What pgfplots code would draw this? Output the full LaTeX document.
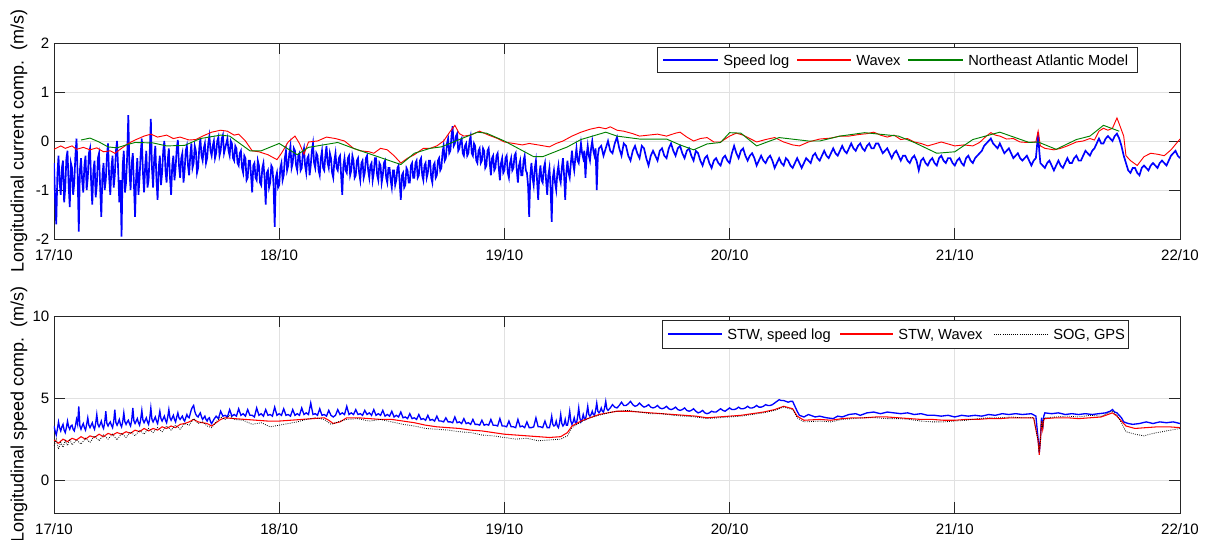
\documentclass[border=0pt]{standalone}
\usepackage{fontspec}
\setmainfont{Liberation Sans}
\usepackage{pgfplots}
\pgfplotsset{compat=1.18}
\definecolor{axgray}{RGB}{38,38,38}
\definecolor{gridgray}{RGB}{225,225,225}
\definecolor{mgreen}{RGB}{0,128,0}
\definecolor{lblue}{RGB}{0,0,255}
\definecolor{lred}{RGB}{255,0,0}
\pgfplotsset{
  mystyle/.style={
    scale only axis, width=844.5pt,
    xmin=0, xmax=5, xtick={0,1,2,3,4,5},
    xticklabels={17/10,18/10,19/10,20/10,21/10,22/10},
    tick align=inside, tick pos=both, major tick length=8pt,
    grid=major, grid style={gridgray, line width=0.6pt},
    axis line style={axgray, line width=0.6pt},
    every tick/.style={axgray, line width=0.6pt},
    every tick label/.append style={font=\fontsize{11.3}{13}\selectfont},
    xticklabel style={yshift=-4.5pt},
    /pgf/number format/assume math mode=true,
    ylabel style={font=\fontsize{13.5}{15}\selectfont, at={(axis description cs:-0.031,0.5)}, anchor=center},
  }
}
\tikzset{legtext/.style={anchor=base west, inner sep=0pt, font=\fontsize{11}{13}\selectfont}}
\begin{document}
\begin{tikzpicture}
\useasboundingbox (-40.5pt,-225pt) rectangle (863.25pt,179.25pt);
% ---------------- top axis ----------------
\begin{axis}[mystyle, at={(0pt,0pt)}, anchor=south west, height=147pt,
  ymin=-2, ymax=2, ytick={-2,-1,0,1,2},
  ylabel={Longitudinal current comp.~~(m/s)}]
\addplot[draw=lblue, line width=1.25pt] coordinates {
(0.000,-0.45)(0.005,-1.20)(0.010,-1.70)(0.015,-0.70)(0.020,-0.30)(0.025,-0.85)(0.030,-1.10)(0.035,-0.55)(0.040,-0.40)(0.045,-1.25)
(0.050,-0.95)(0.055,-0.35)(0.060,-0.20)(0.065,-0.90)(0.070,-1.35)(0.075,-0.45)(0.080,-0.55)(0.085,-1.10)(0.090,-0.85)(0.095,-0.30)
(0.100,0.05)(0.105,-0.70)(0.110,-1.85)(0.115,-0.60)(0.120,-0.35)(0.125,-0.80)(0.130,-1.05)(0.135,-0.50)(0.140,-0.30)(0.145,-1.00)
(0.150,-0.75)(0.155,-0.25)(0.160,-0.15)(0.165,-0.85)(0.170,-1.30)(0.175,-0.60)(0.180,-0.40)(0.185,-1.15)(0.190,-0.90)(0.195,-0.35)
(0.200,-0.25)(0.205,-0.95)(0.210,-1.55)(0.215,-0.70)(0.220,-0.45)(0.225,-1.00)(0.230,-0.80)(0.235,-0.30)(0.240,-0.05)(0.245,-0.75)
(0.250,-1.10)(0.255,-0.55)(0.260,-0.30)(0.265,-0.95)(0.270,-0.70)(0.275,-0.20)(0.280,0.00)(0.285,-0.60)(0.290,-1.25)(0.295,-0.80)
(0.300,-1.95)(0.305,-0.50)(0.310,-0.20)(0.315,-1.05)(0.320,-0.85)(0.325,-0.30)(0.330,0.53)(0.335,-0.60)(0.340,-1.00)(0.345,-0.45)
(0.350,-0.25)(0.355,-0.90)(0.360,-1.55)(0.365,-0.70)(0.370,-0.35)(0.375,-1.10)(0.380,-0.75)(0.385,-0.25)(0.390,0.05)(0.395,-0.65)
(0.400,-1.05)(0.405,-0.50)(0.410,-0.20)(0.415,-0.95)(0.420,-0.80)(0.425,-0.25)(0.430,0.45)(0.435,-0.55)(0.440,-0.95)(0.445,-0.35)
(0.450,-0.10)(0.455,-0.80)(0.460,-1.20)(0.465,-0.55)(0.470,-0.30)(0.475,-0.90)(0.480,-0.65)(0.485,-0.20)(0.490,0.00)(0.495,-0.60)
(0.500,-0.85)(0.505,-0.40)(0.510,-0.15)(0.515,-0.75)(0.520,-1.10)(0.525,-0.50)(0.530,-0.30)(0.535,-0.80)(0.540,-0.55)(0.545,-0.15)
(0.550,0.02)(0.555,-0.50)(0.560,-0.75)(0.565,-0.35)(0.570,-0.25)(0.575,-0.85)(0.580,-0.60)(0.585,-0.20)(0.590,-0.10)(0.595,-0.50)
(0.600,-0.70)(0.605,-0.30)(0.610,-0.05)(0.615,-0.55)(0.620,-0.45)(0.625,-0.10)(0.630,-0.20)(0.635,-0.65)(0.640,-0.55)(0.645,-0.15)
(0.650,0.05)(0.655,-0.30)(0.660,-0.40)(0.665,-0.15)(0.670,-0.05)(0.675,-0.45)(0.680,-0.35)(0.685,-0.05)(0.690,0.10)(0.695,-0.20)
(0.700,-0.30)(0.705,-0.10)(0.710,0.00)(0.715,-0.35)(0.720,-0.25)(0.725,0.00)(0.730,0.08)(0.735,-0.30)(0.740,-0.20)(0.745,0.05)
(0.750,0.12)(0.755,-0.25)(0.760,-0.15)(0.765,-0.05)(0.770,0.05)(0.775,-0.20)(0.780,-0.30)(0.785,0.00)(0.790,-0.05)(0.795,-0.35)
(0.800,-0.40)(0.805,-0.10)(0.810,-0.15)(0.815,-0.45)(0.820,-0.50)(0.825,-0.25)(0.830,-0.20)(0.835,-0.55)(0.840,-0.65)(0.845,-0.30)
(0.850,-0.35)(0.855,-0.80)(0.860,-0.75)(0.865,-0.40)(0.870,-0.40)(0.875,-0.70)(0.880,-1.05)(0.885,-0.50)(0.890,-0.45)(0.895,-0.75)
(0.900,-0.80)(0.905,-0.40)(0.910,-0.50)(0.915,-0.85)(0.920,-0.90)(0.925,-0.55)(0.930,-0.45)(0.935,-0.75)(0.940,-1.30)(0.945,-0.65)
(0.950,-0.60)(0.955,-0.95)(0.960,-0.85)(0.965,-0.50)(0.970,-0.55)(0.975,-0.90)(0.980,-1.75)(0.985,-0.75)(0.990,-0.65)(0.995,-0.95)
(1.000,-0.90)(1.005,-0.55)(1.010,-0.45)(1.015,-0.80)(1.020,-0.70)(1.025,-0.35)(1.030,-0.20)(1.035,-0.60)(1.040,-0.50)(1.045,-0.25)
(1.050,-0.10)(1.055,-0.55)(1.060,-0.45)(1.065,-0.15)(1.070,-0.20)(1.075,-0.50)(1.080,-0.60)(1.085,-0.30)(1.090,-0.25)(1.095,-0.60)
(1.100,-0.55)(1.105,-0.25)(1.110,-0.15)(1.115,-0.50)(1.120,-0.65)(1.125,-0.35)(1.130,-0.30)(1.135,-0.70)(1.140,-0.50)(1.145,-0.20)
(1.150,-0.05)(1.155,-0.45)(1.160,-0.55)(1.165,-0.25)(1.170,-0.30)(1.175,-0.60)(1.180,-0.70)(1.185,-0.35)(1.190,-0.20)(1.195,-0.55)
(1.200,-0.60)(1.205,-0.30)(1.210,-0.10)(1.215,-0.45)(1.220,-0.55)(1.225,-0.25)(1.230,-0.35)(1.235,-0.65)(1.240,-0.75)(1.245,-0.40)
(1.250,-0.25)(1.255,-0.55)(1.260,-0.60)(1.265,-0.35)(1.270,-0.30)(1.275,-0.70)(1.280,-1.10)(1.285,-0.50)(1.290,-0.35)(1.295,-0.60)
(1.300,-0.65)(1.305,-0.35)(1.310,-0.30)(1.315,-0.70)(1.320,-0.60)(1.325,-0.30)(1.330,-0.40)(1.335,-0.75)(1.340,-0.70)(1.345,-0.40)
(1.350,-0.35)(1.355,-0.65)(1.360,-0.80)(1.365,-0.45)(1.370,-0.40)(1.375,-0.75)(1.380,-0.65)(1.385,-0.35)(1.390,-0.30)(1.395,-0.60)
(1.400,-0.75)(1.405,-0.50)(1.410,-0.45)(1.415,-0.80)(1.420,-0.65)(1.425,-0.35)(1.430,-0.35)(1.435,-0.70)(1.440,-0.80)(1.445,-0.45)
(1.450,-0.50)(1.455,-0.85)(1.460,-0.70)(1.465,-0.45)(1.470,-0.40)(1.475,-0.75)(1.480,-0.85)(1.485,-0.55)(1.490,-0.55)(1.495,-0.80)
(1.500,-0.95)(1.505,-0.60)(1.510,-0.60)(1.515,-0.90)(1.520,-0.80)(1.525,-0.55)(1.530,-0.50)(1.535,-0.85)(1.540,-1.20)(1.545,-0.70)
(1.550,-0.65)(1.555,-0.95)(1.560,-0.90)(1.565,-0.55)(1.570,-0.60)(1.575,-0.85)(1.580,-0.85)(1.585,-0.50)(1.590,-0.45)(1.595,-0.75)
(1.600,-0.75)(1.605,-0.45)(1.610,-0.40)(1.615,-0.75)(1.620,-0.70)(1.625,-0.40)(1.630,-0.35)(1.635,-0.70)(1.640,-0.80)(1.645,-0.50)
(1.650,-0.45)(1.655,-0.75)(1.660,-0.65)(1.665,-0.40)(1.670,-0.40)(1.675,-0.75)(1.680,-0.85)(1.685,-0.50)(1.690,-0.45)(1.695,-0.75)
(1.700,-0.70)(1.705,-0.40)(1.710,-0.35)(1.715,-0.60)(1.720,-0.55)(1.725,-0.25)(1.730,-0.10)(1.735,-0.40)(1.740,-0.35)(1.745,-0.05)
(1.750,0.05)(1.755,-0.25)(1.760,-0.20)(1.765,0.10)(1.770,0.30)(1.775,-0.10)(1.780,-0.05)(1.785,0.10)(1.790,0.15)(1.795,-0.20)
(1.800,-0.15)(1.805,0.00)(1.810,0.05)(1.815,-0.25)(1.820,-0.30)(1.825,-0.10)(1.830,-0.05)(1.835,-0.30)(1.840,-0.25)(1.845,0.00)
(1.850,0.10)(1.855,-0.25)(1.860,-0.30)(1.865,-0.05)(1.870,-0.10)(1.875,-0.40)(1.880,-0.45)(1.885,-0.20)(1.890,-0.15)(1.895,-0.45)
(1.900,-0.40)(1.905,-0.15)(1.910,-0.20)(1.915,-0.55)(1.920,-0.50)(1.925,-0.20)(1.930,-0.15)(1.935,-0.45)(1.940,-0.70)(1.945,-0.35)
(1.950,-0.30)(1.955,-0.60)(1.960,-0.55)(1.965,-0.30)(1.970,-0.25)(1.975,-0.55)(1.980,-0.80)(1.985,-0.45)(1.990,-0.35)(1.995,-0.65)
(2.000,-0.60)(2.005,-0.35)(2.010,-0.30)(2.015,-0.65)(2.020,-0.75)(2.025,-0.45)(2.030,-0.35)(2.035,-0.60)(2.040,-0.55)(2.045,-0.30)
(2.050,-0.25)(2.055,-0.60)(2.060,-0.85)(2.065,-0.50)(2.070,-0.40)(2.075,-0.70)(2.080,-0.70)(2.085,-0.40)(2.090,-0.30)(2.095,-0.60)
(2.100,-0.65)(2.105,-0.90)(2.110,-1.55)(2.115,-0.70)(2.120,-0.45)(2.125,-0.75)(2.130,-0.90)(2.135,-0.55)(2.140,-0.40)(2.145,-0.80)
(2.150,-1.20)(2.155,-0.70)(2.160,-0.50)(2.165,-0.80)(2.170,-0.85)(2.175,-0.55)(2.180,-0.45)(2.185,-0.80)(2.190,-1.10)(2.195,-0.70)
(2.200,-0.55)(2.205,-0.95)(2.210,-1.65)(2.215,-0.75)(2.220,-0.60)(2.225,-0.85)(2.230,-1.00)(2.235,-0.65)(2.240,-0.50)(2.245,-0.75)
(2.250,-0.85)(2.255,-0.55)(2.260,-0.35)(2.265,-0.70)(2.270,-1.20)(2.275,-0.65)(2.280,-0.40)(2.285,-0.65)(2.290,-0.75)(2.295,-0.45)
(2.300,-0.20)(2.305,-0.45)(2.310,-0.60)(2.315,-0.35)(2.320,-0.15)(2.325,-0.40)(2.330,-0.45)(2.335,-0.25)(2.340,-0.05)(2.345,-0.25)
(2.350,-0.35)(2.355,-0.20)(2.360,-0.75)(2.365,-0.30)(2.370,-0.10)(2.375,-0.30)(2.380,-0.40)(2.385,-0.15)(2.390,0.00)(2.395,-0.20)
(2.400,-0.30)(2.405,-0.15)(2.410,-1.00)(2.415,-0.30)(2.420,-0.15)
(2.43,-0.10)(2.44,-0.30)(2.45,-0.15)(2.46,0.00)(2.47,-0.20)(2.48,-0.25)(2.49,-0.05)(2.50,0.08)(2.51,-0.15)(2.52,-0.30)
(2.53,-0.05)(2.54,-0.10)(2.55,-0.30)(2.56,-0.40)(2.57,-0.20)(2.58,-0.10)(2.59,-0.25)(2.60,-0.35)(2.61,-0.10)(2.62,-0.15)
(2.63,-0.35)(2.64,-0.50)(2.65,-0.30)(2.66,-0.20)(2.67,-0.30)(2.68,-0.40)(2.69,-0.20)(2.70,-0.15)(2.71,-0.30)(2.72,-0.35)
(2.73,-0.15)(2.74,-0.05)(2.75,-0.20)(2.76,-0.30)(2.77,-0.15)(2.78,-0.10)(2.79,-0.25)(2.80,-0.35)(2.81,-0.20)(2.82,-0.15)
(2.83,-0.30)(2.84,-0.40)(2.85,-0.20)(2.86,-0.25)(2.87,-0.40)(2.88,-0.50)(2.89,-0.35)(2.90,-0.30)(2.91,-0.45)(2.92,-0.55)
(2.93,-0.40)(2.94,-0.35)(2.95,-0.45)(2.96,-0.50)(2.97,-0.35)(2.98,-0.30)(2.99,-0.40)(3.00,-0.45)(3.01,-0.25)(3.02,-0.10)
(3.03,-0.25)(3.04,-0.35)(3.05,-0.20)(3.06,-0.15)(3.07,-0.30)(3.08,-0.40)(3.09,-0.30)(3.10,-0.25)(3.11,-0.35)(3.12,-0.50)
(3.13,-0.40)(3.14,-0.30)(3.15,-0.40)(3.16,-0.45)(3.17,-0.35)(3.18,-0.30)(3.19,-0.40)(3.20,-0.55)(3.21,-0.45)(3.22,-0.35)
(3.23,-0.45)(3.24,-0.50)(3.25,-0.35)(3.26,-0.40)(3.27,-0.50)(3.28,-0.55)(3.29,-0.45)(3.30,-0.35)(3.31,-0.45)(3.32,-0.55)
(3.33,-0.45)(3.34,-0.35)(3.35,-0.40)(3.36,-0.45)(3.37,-0.30)(3.38,-0.25)(3.39,-0.35)(3.40,-0.40)(3.41,-0.30)(3.42,-0.20)
(3.43,-0.30)(3.44,-0.35)(3.45,-0.25)(3.46,-0.15)(3.47,-0.25)(3.48,-0.30)(3.49,-0.20)(3.50,-0.10)(3.51,-0.20)(3.52,-0.25)
(3.53,-0.15)(3.54,-0.05)(3.55,-0.15)(3.56,-0.20)(3.57,-0.10)(3.58,-0.05)(3.59,-0.15)(3.60,-0.20)(3.61,-0.10)(3.62,-0.05)
(3.63,-0.15)(3.64,-0.15)(3.65,-0.05)(3.66,-0.05)(3.67,-0.15)(3.68,-0.25)(3.69,-0.20)(3.70,-0.15)(3.71,-0.25)(3.72,-0.35)
(3.73,-0.25)(3.74,-0.20)(3.75,-0.30)(3.76,-0.40)(3.77,-0.30)(3.78,-0.30)(3.79,-0.40)(3.80,-0.45)(3.81,-0.35)(3.82,-0.30)
(3.83,-0.40)(3.84,-0.60)(3.85,-0.40)(3.86,-0.35)(3.87,-0.45)(3.88,-0.50)(3.89,-0.40)(3.90,-0.35)(3.91,-0.45)(3.92,-0.50)
(3.93,-0.35)(3.94,-0.30)(3.95,-0.40)(3.96,-0.45)(3.97,-0.35)(3.98,-0.35)(3.99,-0.45)(4.00,-0.50)(4.01,-0.40)(4.02,-0.35)
(4.03,-0.45)(4.04,-0.50)(4.05,-0.35)(4.06,-0.30)(4.07,-0.40)(4.08,-0.45)(4.09,-0.35)(4.10,-0.30)(4.11,-0.25)(4.12,-0.20)
(4.13,-0.10)(4.14,-0.05)(4.15,0.00)(4.16,0.05)(4.17,-0.05)(4.18,-0.10)(4.19,-0.15)(4.20,-0.05)(4.21,-0.15)(4.22,-0.25)
(4.23,-0.20)(4.24,-0.15)(4.25,-0.25)(4.26,-0.35)(4.27,-0.30)(4.28,-0.25)(4.29,-0.35)(4.30,-0.40)(4.31,-0.35)(4.32,-0.30)
(4.33,-0.40)(4.34,-0.50)(4.35,-0.40)(4.36,-0.35)(4.365,-0.10)(4.37,0.18)(4.375,-0.20)(4.38,-0.45)(4.39,-0.50)(4.40,-0.55)
(4.41,-0.45)(4.42,-0.40)(4.43,-0.50)(4.44,-0.60)(4.45,-0.50)(4.46,-0.40)(4.47,-0.50)(4.48,-0.55)(4.49,-0.45)(4.50,-0.35)
(4.51,-0.45)(4.52,-0.45)(4.53,-0.35)(4.54,-0.30)(4.55,-0.40)(4.56,-0.40)(4.57,-0.30)(4.58,-0.20)(4.59,-0.25)(4.60,-0.30)
(4.61,-0.20)(4.62,-0.15)(4.63,-0.05)(4.64,0.05)(4.65,-0.05)(4.66,-0.05)(4.67,0.05)(4.68,0.10)(4.69,0.05)(4.70,0.00)
(4.71,0.10)(4.72,0.15)(4.73,0.05)(4.74,-0.10)(4.75,-0.30)(4.76,-0.45)(4.77,-0.60)(4.78,-0.65)(4.79,-0.55)(4.80,-0.55)
(4.81,-0.65)(4.82,-0.70)(4.83,-0.55)(4.84,-0.50)(4.85,-0.55)(4.86,-0.60)(4.87,-0.50)(4.88,-0.45)(4.89,-0.50)(4.90,-0.55)
(4.91,-0.45)(4.92,-0.40)(4.93,-0.45)(4.94,-0.50)(4.95,-0.40)(4.96,-0.30)(4.97,-0.25)(4.98,-0.20)(4.99,-0.30)(5.00,-0.35)};
\addplot[draw=lred, line width=0.7pt] coordinates {
(0.00,-0.17)(0.03,-0.10)(0.05,-0.15)(0.08,-0.10)(0.10,-0.17)(0.13,-0.13)(0.16,-0.18)(0.19,-0.14)(0.22,-0.22)(0.25,-0.20)
(0.27,-0.25)(0.30,-0.15)(0.33,-0.05)(0.36,0.02)(0.40,0.10)(0.43,0.14)(0.46,0.08)(0.50,0.12)(0.53,0.05)(0.56,0.08)
(0.60,0.02)(0.63,0.03)(0.66,0.10)(0.70,0.18)(0.74,0.22)(0.77,0.20)(0.80,0.12)(0.82,0.14)(0.85,0.00)(0.88,-0.20)
(0.91,-0.22)(0.95,-0.28)(0.99,-0.38)(1.01,-0.25)(1.04,-0.02)(1.07,0.10)(1.09,-0.05)(1.11,-0.27)(1.13,-0.02)(1.17,0.00)
(1.21,0.08)(1.25,0.05)(1.29,0.00)(1.33,-0.15)(1.36,-0.20)(1.40,-0.22)(1.42,-0.25)(1.45,-0.15)(1.48,-0.18)(1.51,-0.30)
(1.54,-0.45)(1.57,-0.35)(1.60,-0.28)(1.64,-0.15)(1.67,-0.15)(1.70,-0.10)(1.73,0.00)(1.76,0.20)(1.78,0.32)(1.80,0.15)
(1.82,0.10)(1.85,0.12)(1.89,0.20)(1.93,0.12)(1.97,0.05)(2.00,-0.02)(2.04,-0.05)(2.08,-0.08)(2.11,-0.05)(2.15,-0.08)
(2.20,-0.12)(2.23,-0.05)(2.26,0.00)(2.30,0.10)(2.34,0.18)(2.38,0.24)(2.42,0.28)(2.45,0.25)(2.47,0.29)(2.50,0.22)
(2.53,0.20)(2.57,0.15)(2.60,0.10)(2.64,0.12)(2.68,0.14)(2.72,0.10)(2.76,0.16)(2.78,0.18)(2.81,0.08)(2.84,0.00)
(2.87,0.05)(2.90,0.07)(2.93,-0.02)(2.96,-0.02)(3.00,0.10)(3.03,0.16)(3.06,0.12)(3.09,0.05)(3.12,-0.02)(3.16,0.03)
(3.20,0.07)(3.24,-0.02)(3.28,-0.08)(3.31,-0.10)(3.35,-0.02)(3.40,0.04)(3.45,0.06)(3.49,0.10)(3.53,0.10)(3.57,0.13)
(3.61,0.15)(3.64,0.18)(3.67,0.12)(3.70,0.08)(3.73,0.12)(3.76,0.03)(3.79,0.05)(3.82,-0.02)(3.85,-0.05)(3.88,-0.10)
(3.91,-0.06)(3.94,-0.02)(3.97,-0.06)(4.00,-0.10)(4.04,-0.08)(4.08,-0.10)(4.11,-0.03)(4.14,0.10)(4.16,0.17)(4.18,0.12)
(4.20,0.10)(4.23,0.04)(4.26,0.05)(4.29,-0.02)(4.32,-0.03)(4.36,-0.02)(4.37,0.20)(4.38,-0.10)(4.40,-0.15)(4.44,-0.18)
(4.47,-0.15)(4.50,-0.10)(4.54,-0.02)(4.57,0.00)(4.60,0.05)(4.62,0.02)(4.64,0.20)(4.66,0.26)(4.68,0.22)(4.70,0.26)
(4.72,0.47)(4.73,0.35)(4.75,0.10)(4.76,-0.30)(4.78,-0.40)(4.81,-0.50)(4.84,-0.32)(4.87,-0.25)(4.90,-0.27)(4.93,-0.30)
(4.96,-0.18)(5.00,0.04)};
\addplot[draw=mgreen, line width=0.7pt] coordinates {
(0.12,0.02)(0.16,0.06)(0.20,-0.02)(0.24,-0.12)(0.28,-0.14)(0.32,-0.08)(0.36,-0.03)(0.44,-0.04)(0.50,-0.10)(0.58,-0.09)
(0.65,0.05)(0.74,0.12)(0.78,0.10)(0.87,-0.20)(0.92,-0.20)(1.00,-0.05)(1.08,-0.28)(1.13,-0.13)(1.26,-0.03)(1.33,-0.15)
(1.54,-0.48)(1.60,-0.25)(1.67,-0.15)(1.72,-0.12)(1.88,0.18)(1.92,0.16)(2.00,0.00)(2.13,-0.32)(2.17,-0.32)(2.28,-0.12)
(2.34,0.03)(2.45,0.18)(2.50,0.10)(2.60,0.04)(2.72,0.04)(2.78,-0.08)(2.84,-0.18)(2.90,-0.06)(2.96,-0.03)(3.00,0.17)
(3.05,0.16)(3.12,-0.10)(3.22,0.07)(3.35,0.00)(3.40,0.00)(3.49,0.10)(3.60,0.17)(3.75,0.10)(3.82,-0.03)(3.92,-0.25)
(4.00,-0.22)(4.08,0.03)(4.20,0.18)(4.33,-0.03)(4.37,-0.02)(4.45,-0.17)(4.54,0.03)(4.60,0.10)(4.66,0.32)(4.73,0.20)};
\end{axis}
% ---------------- bottom axis ----------------
\begin{axis}[mystyle, at={(0pt,-205.5pt)}, anchor=south west, height=147.75pt,
  ymin=-2, ymax=10, ytick={0,5,10},
  ylabel={Longitudinal speed comp.~~(m/s)}]
\addplot[draw=lblue, line width=1.0pt] coordinates {
(0.000,3.30)(0.005,3.00)(0.010,2.75)(0.015,3.10)(0.020,3.55)(0.025,3.20)(0.030,3.00)(0.035,3.25)(0.040,3.40)(0.045,3.05)
(0.050,2.90)(0.055,3.20)(0.060,3.60)(0.065,3.25)(0.070,3.10)(0.075,3.30)(0.080,3.35)(0.085,3.10)(0.090,3.00)(0.095,3.30)
(0.100,3.70)(0.105,3.40)(0.110,4.50)(0.115,3.30)(0.120,3.10)(0.125,3.30)(0.130,3.45)(0.135,3.20)(0.140,3.05)(0.145,3.40)
(0.150,3.80)(0.155,3.35)(0.160,3.20)(0.165,3.35)(0.170,3.50)(0.175,3.25)(0.180,3.10)(0.185,3.45)(0.190,4.00)(0.195,3.40)
(0.200,3.25)(0.205,3.40)(0.210,3.60)(0.215,3.30)(0.220,3.15)(0.225,3.50)(0.230,4.20)(0.235,3.45)(0.240,3.30)(0.245,3.45)
(0.250,3.55)(0.255,3.35)(0.260,3.20)(0.265,3.55)(0.270,4.30)(0.275,3.50)(0.280,3.35)(0.285,3.50)(0.290,3.70)(0.295,3.40)
(0.300,3.25)(0.305,3.55)(0.310,4.10)(0.315,3.55)(0.320,3.40)(0.325,3.55)(0.330,3.65)(0.335,3.45)(0.340,3.30)(0.345,3.65)
(0.350,4.40)(0.355,3.60)(0.360,3.45)(0.365,3.60)(0.370,3.75)(0.375,3.50)(0.380,3.35)(0.385,3.70)(0.390,4.25)(0.395,3.65)
(0.400,3.50)(0.405,3.65)(0.410,3.80)(0.415,3.55)(0.420,3.40)(0.425,3.75)(0.430,4.40)(0.435,3.70)(0.440,3.55)(0.445,3.70)
(0.450,3.85)(0.455,3.60)(0.460,3.45)(0.465,3.80)(0.470,4.20)(0.475,3.75)(0.480,3.60)(0.485,3.75)(0.490,3.90)(0.495,3.65)
(0.500,3.50)(0.505,3.85)(0.510,4.30)(0.515,3.80)(0.520,3.65)(0.525,3.80)(0.530,3.95)(0.535,3.70)(0.540,3.55)(0.545,3.85)
(0.550,4.10)(0.555,3.80)(0.560,3.70)(0.565,3.80)(0.570,3.90)(0.575,3.70)(0.580,3.60)(0.585,3.80)(0.590,4.00)(0.595,3.85)
(0.600,3.80)(0.605,4.05)(0.610,4.30)(0.615,4.45)(0.620,4.55)(0.625,4.20)(0.630,4.00)(0.635,3.90)(0.640,3.85)(0.645,4.00)
(0.650,4.10)(0.655,3.85)(0.660,3.70)(0.665,3.80)(0.670,3.90)(0.675,3.70)(0.680,3.60)(0.685,3.75)(0.690,3.80)(0.695,3.55)
(0.700,3.45)(0.71,3.70)(0.72,3.90)(0.73,3.75)(0.74,4.20)(0.75,3.90)(0.76,3.95)(0.77,3.85)(0.78,4.30)(0.79,3.90)
(0.80,4.00)(0.81,3.90)(0.82,4.35)(0.83,3.95)(0.84,4.05)(0.85,3.90)(0.86,4.30)(0.87,3.95)(0.88,3.95)(0.89,3.85)
(0.90,4.40)(0.91,3.95)(0.92,4.05)(0.93,3.90)(0.94,4.30)(0.95,3.95)(0.96,4.00)(0.97,3.90)(0.98,4.45)(0.99,3.95)
(1.00,4.05)(1.01,3.95)(1.02,4.35)(1.03,3.95)(1.04,4.00)(1.05,3.90)(1.06,4.30)(1.07,3.95)(1.08,4.05)(1.09,3.95)
(1.10,4.40)(1.11,4.00)(1.12,4.10)(1.13,4.00)(1.14,4.70)(1.15,4.00)(1.16,4.05)(1.17,3.95)(1.18,4.35)(1.19,3.95)
(1.20,4.00)(1.21,3.90)(1.22,4.25)(1.23,3.95)(1.24,3.85)(1.25,3.95)(1.26,4.30)(1.27,4.00)(1.28,4.10)(1.29,4.00)
(1.30,4.50)(1.31,4.00)(1.32,4.10)(1.33,4.00)(1.34,4.30)(1.35,4.00)(1.36,4.05)(1.37,3.95)(1.38,4.25)(1.39,4.00)
(1.40,4.10)(1.41,3.95)(1.42,4.30)(1.43,3.95)(1.44,4.05)(1.45,3.95)(1.46,4.25)(1.47,3.90)(1.48,4.00)(1.49,3.90)
(1.50,4.20)(1.51,3.85)(1.52,3.95)(1.53,3.85)(1.54,4.15)(1.55,3.80)(1.56,3.85)(1.57,3.75)(1.58,4.05)(1.59,3.75)
(1.60,3.80)(1.61,3.70)(1.62,4.00)(1.63,3.70)(1.64,3.75)(1.65,3.65)(1.66,3.95)(1.67,3.65)(1.68,3.70)(1.69,3.60)
(1.70,3.90)(1.71,3.60)(1.72,3.60)(1.73,3.55)(1.74,3.80)(1.75,3.55)(1.76,3.55)(1.77,3.50)(1.78,3.85)(1.79,3.50)
(1.80,3.55)(1.81,3.45)(1.82,3.75)(1.83,3.45)(1.84,3.50)(1.85,3.40)(1.86,3.70)(1.87,3.40)(1.88,3.40)(1.89,3.35)
(1.90,3.65)(1.91,3.35)(1.92,3.40)(1.93,3.35)(1.94,3.70)(1.95,3.35)(1.96,3.35)(1.97,3.30)(1.98,3.75)(1.99,3.30)
(2.00,3.30)(2.01,3.25)(2.02,3.60)(2.03,3.25)(2.04,3.25)(2.05,3.20)(2.06,3.70)(2.07,3.25)(2.08,3.30)(2.09,3.20)
(2.10,3.55)(2.11,3.20)(2.12,3.20)(2.13,3.25)(2.14,3.80)(2.15,3.25)(2.16,3.25)(2.17,3.20)(2.18,3.60)(2.19,3.20)
(2.200,3.20)(2.205,3.50)(2.210,3.90)(2.215,3.40)(2.220,3.30)(2.225,3.35)(2.230,3.60)(2.235,3.30)(2.240,3.20)(2.245,3.50)
(2.250,4.00)(2.255,3.45)(2.260,3.30)(2.265,3.40)(2.270,3.70)(2.275,3.35)(2.280,3.35)(2.285,3.70)(2.290,4.20)(2.295,3.60)
(2.300,3.40)(2.305,3.55)(2.310,3.80)(2.315,3.50)(2.320,3.45)(2.325,3.85)(2.330,4.40)(2.335,3.80)(2.340,3.55)(2.345,3.70)
(2.350,4.00)(2.355,3.75)(2.360,3.70)(2.365,4.05)(2.370,4.50)(2.375,4.00)(2.380,3.90)(2.385,4.00)(2.390,4.20)(2.395,4.00)
(2.400,3.95)(2.405,4.25)(2.410,4.70)(2.415,4.20)(2.420,4.10)(2.425,4.20)(2.430,4.40)(2.435,4.20)(2.440,4.15)(2.445,4.40)
(2.450,4.80)(2.455,4.35)(2.460,4.25)(2.47,4.40)(2.48,4.60)(2.49,4.45)(2.50,4.40)(2.51,4.55)(2.52,4.75)(2.53,4.55)
(2.54,4.55)(2.55,4.65)(2.56,4.80)(2.57,4.60)(2.58,4.50)(2.59,4.55)(2.60,4.70)(2.61,4.55)(2.62,4.45)(2.63,4.50)
(2.64,4.60)(2.65,4.45)(2.66,4.40)(2.67,4.45)(2.68,4.55)(2.69,4.40)(2.70,4.35)(2.71,4.40)(2.72,4.50)(2.73,4.35)
(2.74,4.30)(2.75,4.35)(2.76,4.45)(2.77,4.30)(2.78,4.25)(2.79,4.30)(2.80,4.40)(2.81,4.25)(2.82,4.20)(2.83,4.25)
(2.84,4.35)(2.85,4.20)(2.86,4.10)(2.87,4.15)(2.88,4.25)(2.89,4.10)(2.90,4.05)(2.91,4.10)(2.92,4.20)(2.93,4.15)
(2.94,4.15)(2.95,4.25)(2.96,4.35)(2.97,4.25)(2.98,4.20)(2.99,4.30)(3.00,4.40)(3.01,4.30)(3.02,4.30)(3.03,4.35)
(3.04,4.45)(3.05,4.35)(3.06,4.35)(3.07,4.40)(3.08,4.50)(3.09,4.40)(3.10,4.40)(3.11,4.45)(3.12,4.55)(3.13,4.45)
(3.14,4.45)(3.15,4.50)(3.16,4.60)(3.17,4.55)(3.18,4.55)(3.19,4.60)(3.20,4.70)(3.21,4.80)(3.22,4.90)(3.23,4.85)
(3.24,4.85)(3.25,4.80)(3.26,4.75)(3.27,4.80)(3.28,4.80)(3.29,4.50)(3.30,4.20)(3.31,3.95)(3.33,3.85)(3.35,4.00)
(3.38,3.85)(3.40,3.90)(3.43,3.80)(3.46,3.75)(3.48,3.90)(3.50,3.85)(3.53,4.00)(3.56,4.05)(3.58,3.95)(3.61,4.10)
(3.64,4.15)(3.67,4.05)(3.70,4.15)(3.73,4.10)(3.76,4.05)(3.79,4.10)(3.82,4.00)(3.85,4.05)(3.88,3.95)(3.91,3.95)
(3.94,3.90)(3.97,3.95)(4.00,3.85)(4.03,3.95)(4.06,3.90)(4.09,3.95)(4.12,3.90)(4.15,4.00)(4.18,3.95)(4.21,4.05)
(4.24,4.00)(4.27,4.05)(4.30,4.00)(4.34,4.05)(4.36,3.90)(4.37,2.50)(4.375,1.65)(4.38,2.50)(4.385,3.80)(4.39,3.10)
(4.395,3.90)(4.40,4.10)(4.43,4.05)(4.46,4.10)(4.49,4.00)(4.52,4.05)(4.55,4.00)(4.58,4.05)(4.61,4.00)(4.64,4.05)
(4.67,4.10)(4.69,4.20)(4.70,4.30)(4.71,4.15)(4.72,4.10)(4.74,3.80)(4.75,3.55)(4.77,3.45)(4.79,3.40)(4.82,3.45)
(4.85,3.55)(4.88,3.45)(4.91,3.55)(4.94,3.50)(4.97,3.55)(5.00,3.45)};
\addplot[draw=lred, line width=0.8pt] coordinates {
(0.00,2.45)(0.02,2.25)(0.04,2.50)(0.06,2.35)(0.08,2.55)(0.10,2.45)(0.12,2.65)(0.14,2.50)(0.16,2.70)(0.18,2.60)
(0.20,2.80)(0.22,2.65)(0.24,2.85)(0.26,2.75)(0.28,2.90)(0.30,2.80)(0.32,2.95)(0.34,2.85)(0.36,3.05)(0.38,2.95)
(0.40,3.15)(0.42,3.00)(0.44,3.15)(0.46,3.05)(0.48,3.25)(0.50,3.15)(0.52,3.30)(0.54,3.20)(0.56,3.40)(0.58,3.45)
(0.60,3.55)(0.62,3.70)(0.64,3.55)(0.66,3.50)(0.68,3.45)(0.70,3.30)(0.72,3.50)(0.74,3.70)(0.76,3.80)(0.80,3.75)
(0.85,3.70)(0.90,3.65)(0.95,3.60)(1.00,3.60)(1.05,3.65)(1.10,3.70)(1.15,3.75)(1.20,3.80)(1.22,3.65)(1.24,3.45)
(1.27,3.55)(1.30,3.80)(1.35,3.80)(1.40,3.75)(1.45,3.70)(1.50,3.70)(1.55,3.60)(1.60,3.50)(1.65,3.35)(1.70,3.25)
(1.75,3.20)(1.80,3.15)(1.85,3.05)(1.90,3.00)(1.95,2.90)(2.00,2.80)(2.05,2.75)(2.10,2.70)(2.15,2.65)(2.20,2.60)
(2.25,2.65)(2.28,2.90)(2.30,3.30)(2.34,3.60)(2.38,3.80)(2.42,4.00)(2.46,4.10)(2.50,4.20)(2.55,4.20)(2.60,4.15)
(2.65,4.10)(2.70,4.05)(2.75,4.00)(2.80,3.95)(2.85,3.90)(2.90,3.80)(2.95,3.85)(3.00,3.90)(3.05,3.95)(3.10,4.05)
(3.15,4.15)(3.20,4.30)(3.24,4.50)(3.28,4.35)(3.30,3.90)(3.33,3.65)(3.40,3.70)(3.45,3.65)(3.50,3.75)(3.55,3.80)
(3.60,3.80)(3.65,3.85)(3.70,3.85)(3.75,3.80)(3.80,3.75)(3.85,3.70)(3.90,3.70)(3.95,3.65)(4.00,3.65)(4.05,3.70)
(4.10,3.70)(4.15,3.75)(4.20,3.75)(4.25,3.80)(4.30,3.80)(4.35,3.80)(4.37,2.40)(4.375,1.55)(4.38,2.40)(4.385,3.60)
(4.39,3.10)(4.395,3.70)(4.40,3.75)(4.45,3.80)(4.50,3.80)(4.55,3.75)(4.60,3.80)(4.65,3.85)(4.70,4.10)(4.72,3.90)
(4.74,3.60)(4.76,3.30)(4.80,3.15)(4.85,3.20)(4.90,3.25)(4.95,3.25)(5.00,3.20)};
\addplot[draw=black, densely dotted, line width=0.6pt] coordinates {
(0.00,2.10)(0.01,2.50)(0.02,1.90)(0.03,2.30)(0.04,2.00)(0.05,2.40)(0.06,2.10)(0.07,2.50)(0.08,2.15)(0.10,2.45)
(0.12,2.20)(0.14,2.55)(0.16,2.30)(0.18,2.70)(0.20,2.40)(0.22,2.75)(0.24,2.50)(0.26,2.80)(0.28,2.45)(0.30,2.85)
(0.32,2.60)(0.34,2.95)(0.36,2.70)(0.38,3.05)(0.40,2.80)(0.42,3.15)(0.44,2.90)(0.46,3.20)(0.48,2.95)(0.50,3.30)
(0.52,3.05)(0.54,3.35)(0.56,3.10)(0.58,3.45)(0.60,3.35)(0.62,3.75)(0.64,3.45)(0.66,3.55)(0.68,3.30)(0.70,3.20)
(0.72,3.55)(0.74,3.85)(0.76,3.70)(0.78,3.95)(0.80,3.70)(0.84,3.65)(0.88,3.40)(0.92,3.50)(0.96,3.25)(1.00,3.35)
(1.04,3.45)(1.08,3.55)(1.12,3.70)(1.16,3.80)(1.20,3.70)(1.23,3.40)(1.26,3.55)(1.30,3.70)(1.35,3.75)(1.40,3.60)
(1.45,3.70)(1.50,3.55)(1.55,3.40)(1.60,3.30)(1.65,3.15)(1.70,3.10)(1.75,3.05)(1.80,2.95)(1.85,2.90)(1.90,2.75)
(1.95,2.70)(2.00,2.60)(2.05,2.50)(2.10,2.55)(2.15,2.40)(2.20,2.45)(2.25,2.50)(2.28,2.70)(2.30,3.20)(2.34,3.55)
(2.38,3.80)(2.42,3.95)(2.46,4.10)(2.50,4.20)(2.55,4.25)(2.60,4.15)(2.65,4.05)(2.70,4.05)(2.75,3.95)(2.80,3.90)
(2.85,3.85)(2.90,3.75)(2.95,3.80)(3.00,3.85)(3.05,3.90)(3.10,4.00)(3.15,4.10)(3.20,4.25)(3.24,4.45)(3.28,4.30)
(3.30,3.80)(3.33,3.55)(3.40,3.60)(3.45,3.55)(3.50,3.70)(3.55,3.75)(3.60,3.80)(3.65,3.80)(3.70,3.75)(3.75,3.75)
(3.80,3.70)(3.85,3.60)(3.90,3.55)(3.95,3.55)(4.00,3.60)(4.05,3.65)(4.10,3.75)(4.15,3.80)(4.20,3.80)(4.25,3.85)
(4.30,3.80)(4.35,3.80)(4.37,2.40)(4.375,1.70)(4.38,2.40)(4.385,3.60)(4.39,3.20)(4.395,3.70)(4.40,3.80)(4.45,3.85)
(4.50,3.90)(4.55,3.85)(4.60,3.95)(4.65,3.90)(4.70,4.20)(4.72,3.95)(4.74,3.50)(4.76,2.95)(4.80,2.80)(4.84,2.70)
(4.88,2.85)(4.92,2.95)(4.96,3.05)(5.00,3.15)};
\end{axis}
% ---------------- legends (frame, key lines, texts) ----------------
\draw[axgray, line width=0.6pt, fill=white] (452.25pt,125.25pt) rectangle (812.25pt,144pt);
\draw[lblue, line width=0.8pt] (456.75pt,134.25pt) -- (498pt,134.25pt);
\draw[lred, line width=0.8pt] (557.25pt,134.25pt) -- (597.75pt,134.25pt);
\draw[mgreen, line width=0.8pt] (640.5pt,134.25pt) -- (681.75pt,134.25pt);
\node[legtext] at (501.75pt,130.3pt) {Speed log};
\node[legtext] at (601.5pt,130.3pt) {Wavex};
\node[legtext] at (685.5pt,130.3pt) {Northeast Atlantic Model};
\draw[axgray, line width=0.6pt, fill=white] (456pt,-81.75pt) rectangle (806pt,-60.75pt);
\draw[lblue, line width=0.8pt] (460.5pt,-71.25pt) -- (501pt,-71.25pt);
\draw[lred, line width=0.8pt] (589.5pt,-71.25pt) -- (629.25pt,-71.25pt);
\draw[black, densely dotted, line width=0.6pt] (705pt,-71.25pt) -- (745.5pt,-71.25pt);
\node[legtext] at (504.75pt,-75.2pt) {STW, speed log};
\node[legtext] at (633pt,-75.2pt) {STW, Wavex};
\node[legtext] at (749.25pt,-75.2pt) {SOG, GPS};
\end{tikzpicture}
\end{document}
